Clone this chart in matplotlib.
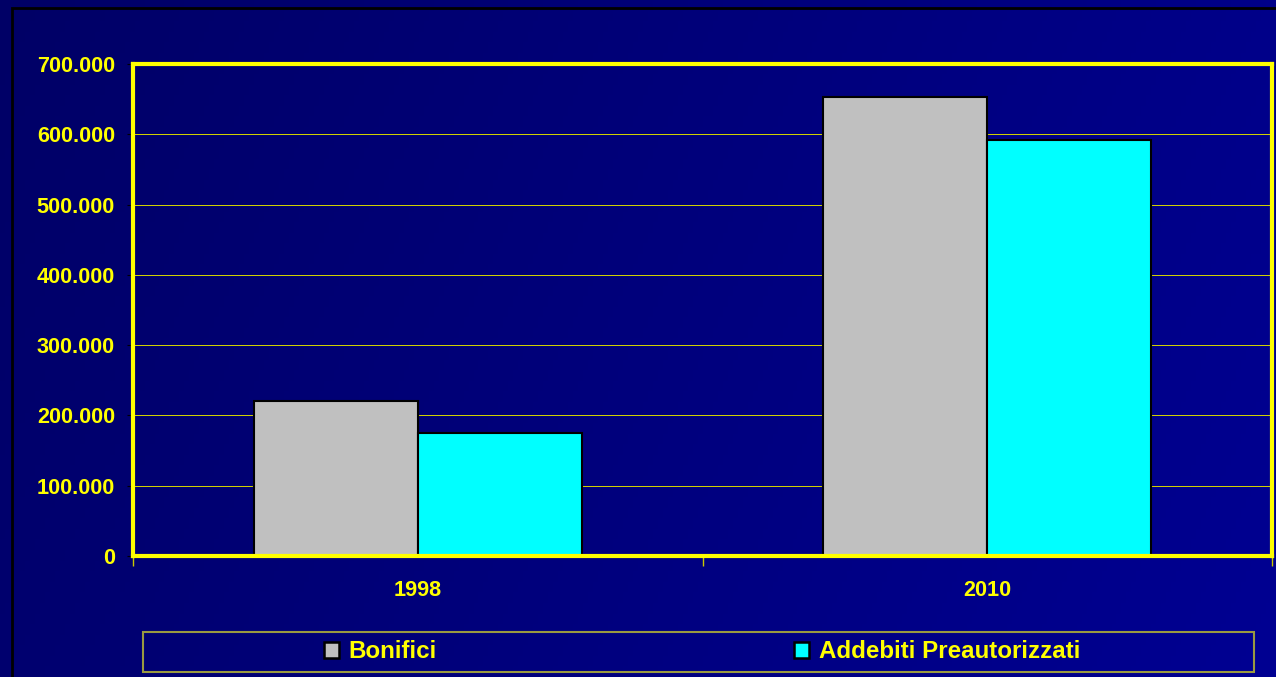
import numpy as np
import matplotlib.pyplot as plt
from matplotlib.patches import Rectangle, Patch
from matplotlib.ticker import FuncFormatter

plt.rcParams['font.family'] = ['Liberation Sans', 'DejaVu Sans']
plt.rcParams['font.weight'] = 'bold'

years = ['1998', '2010']
series_names = ['Bonifici', 'Addebiti Preautorizzati']
bonifici = [221000, 653000]
addebiti = [175000, 592000]
colors = ['#C0C0C0', '#00FFFF']

fig = plt.figure(figsize=(12.76, 6.77), dpi=100)

# background gradient (dark navy -> blue)
bg = fig.add_axes([0, 0, 1, 1], zorder=-10)
gx = np.linspace(0, 1, 256)
gy = np.linspace(0, 1, 64)
X, Y = np.meshgrid(gx, gy)
t = 0.8 * X + 0.2 * Y
img = np.zeros((64, 256, 3))
img[..., 2] = (0x66 + (0x92 - 0x66) * t) / 255.0
bg.imshow(img, aspect='auto', extent=[0, 1, 0, 1], origin='upper')
bg.set_axis_off()

# outer black border of the chart area
fig.patches.append(Rectangle((12 / 1276, -0.1), 1.2, 1 - 8 / 677 + 0.1,
                             transform=fig.transFigure, fill=False,
                             edgecolor='black', linewidth=2, zorder=-5))

ax = fig.add_axes([133 / 1276, 1 - 556 / 677, (1272 - 133) / 1276, (556 - 64) / 677])
ax.patch.set_alpha(0)

x = np.arange(len(years))
w = 0.288
ax.bar(x - w / 2, bonifici, w, color=colors[0], edgecolor='black', linewidth=1.5, zorder=3)
ax.bar(x + w / 2, addebiti, w, color=colors[1], edgecolor='black', linewidth=1.5, zorder=3)

ax.set_xlim(-0.5, 1.5)
ax.set_ylim(0, 700000)
ax.set_yticks(np.arange(0, 700001, 100000))
ax.yaxis.set_major_formatter(FuncFormatter(lambda v, p: f'{int(v):,}'.replace(',', '.')))
ax.set_xticks(x)
ax.set_xticklabels(years)
ax.set_xticks([-0.5, 0.5, 1.5], minor=True)

ax.grid(axis='y', color='#d0d000', linewidth=0.7, zorder=1, antialiased=False)
ax.set_axisbelow(True)

for s in ax.spines.values():
    s.set_color('#FFFF00')
    s.set_linewidth(3)
    s.set_zorder(4)

ax.tick_params(axis='y', colors='#FFFF00', labelsize=15.6, length=4, pad=9, color='black')
ax.tick_params(axis='x', which='major', colors='#FFFF00', labelsize=15.6, length=0, pad=17)
ax.tick_params(axis='x', which='minor', length=7, color='#c8c800', width=1)

# legend
fig.patches.append(Rectangle((143 / 1276, 1 - 672 / 677), 1111 / 1276, 40 / 677,
                             transform=fig.transFigure, fill=False,
                             edgecolor='#9a9a40', linewidth=1.5))
handles = [Patch(facecolor=colors[0], edgecolor='black', linewidth=1.8),
           Patch(facecolor=colors[1], edgecolor='black', linewidth=1.8)]
leg = fig.legend(handles, series_names, loc='center', ncol=2, frameon=False,
                 bbox_to_anchor=(702 / 1276, 1 - 652 / 677), fontsize=17.4,
                 handlelength=0.62, handleheight=0.62, handletextpad=0.4,
                 columnspacing=14.8)
for txt in leg.get_texts():
    txt.set_color('#FFFF00')

fig.savefig('out.png', dpi=100)
